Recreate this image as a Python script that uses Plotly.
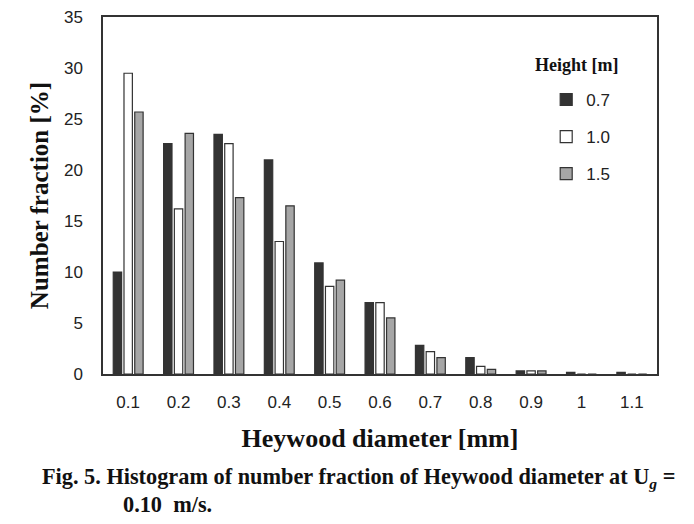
import plotly.graph_objects as go

categories = ["0.1", "0.2", "0.3", "0.4", "0.5", "0.6", "0.7", "0.8", "0.9", "1", "1.1"]
h07 = [10.0, 22.6, 23.5, 21.0, 10.9, 7.0, 2.8, 1.6, 0.3, 0.15, 0.15]
h10 = [29.5, 16.2, 22.6, 13.0, 8.6, 7.0, 2.2, 0.75, 0.3, 0.0, 0.0]
h15 = [25.7, 23.6, 17.3, 16.5, 9.2, 5.5, 1.6, 0.45, 0.3, 0.0, 0.0]
series_names = ["0.7", "1.0", "1.5"]
y_ticks = [0, 5, 10, 15, 20, 25, 30, 35]

colors = ["#333333", "#ffffff", "#a6a6a6"]
serif = "Liberation Serif"
sans = "Liberation Sans"

fig = go.Figure()
for i, (name, vals) in enumerate(zip(series_names, [h07, h10, h15])):
    fig.add_trace(go.Bar(
        x=categories, y=vals, name=name,
        marker=dict(color=colors[i], line=dict(color="#333333", width=1.2)),
        legendgroup=name,
    ))

fig.update_layout(
    width=678, height=508,
    margin=dict(l=95, r=29, t=9, b=142, autoexpand=False),
    paper_bgcolor="white", plot_bgcolor="white",
    barmode="group", bargap=0.36, bargroupgap=0.22,
    font=dict(family=sans, size=16, color="#222222"),
    showlegend=True,
    legend=dict(
        x=0.8, y=0.818, xanchor="left", yanchor="top",
        font=dict(family=sans, size=17, color="#222222"),
        tracegroupgap=12, itemwidth=30,
        bgcolor="rgba(0,0,0,0)",
    ),
    xaxis=dict(
        showline=True, linecolor="#333333", linewidth=1.5, mirror=True,
        automargin=False,
        ticks="", ticklabelstandoff=12,
        tickfont=dict(family=sans, size=17, color="#222222"),
        title=dict(text="<b>Heywood diameter [mm]</b>",
                   font=dict(family=serif, size=26, color="#111111"),
                   standoff=18),
    ),
    yaxis=dict(
        range=[0, 35.02], tickvals=y_ticks, ticktext=[str(v) for v in y_ticks],
        showline=True, linecolor="#333333", linewidth=1.5, mirror=True,
        automargin=False, ticklabeloverflow="allow",
        showgrid=False, zeroline=False, ticks="", ticklabelstandoff=15,
        tickfont=dict(family=sans, size=17, color="#222222"),
        title=dict(text="<b>Number fraction [%]</b>",
                   font=dict(family=serif, size=25, color="#111111"),
                   standoff=8),
    ),
)

fig.add_annotation(
    text="<b>Height [m]</b>", xref="paper", yref="paper",
    x=(533 - 103) / 554, y=1 - (65 - 17) / 357, xanchor="left", yanchor="middle",
    showarrow=False, font=dict(family=serif, size=18, color="#111111"),
)
fig.add_annotation(
    text="<b>Fig. 5. Histogram of number fraction of Heywood diameter at U<sub><i>g</i></sub> =</b>",
    xref="paper", yref="paper",
    x=(40 - 103) / 554, y=1 - (478 - 17) / 357, xanchor="left", yanchor="middle",
    showarrow=False, font=dict(family=serif, size=22.3, color="#111111"),
)
fig.add_annotation(
    text="<b>0.10  m/s.</b>",
    xref="paper", yref="paper",
    x=(121 - 103) / 554, y=1 - (504 - 17) / 357, xanchor="left", yanchor="middle",
    showarrow=False, font=dict(family=serif, size=22.3, color="#111111"),
)

fig.write_html("out.html")
